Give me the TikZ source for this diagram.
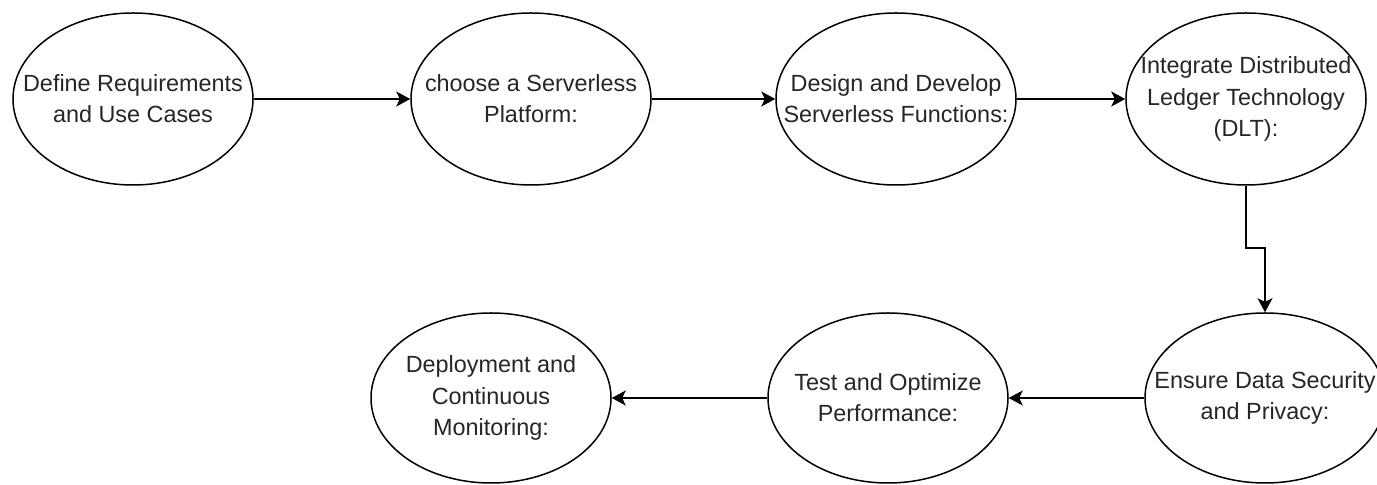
\documentclass[tikz,border=0pt]{standalone}
\usepackage{fontspec}
\setmainfont{Liberation Sans}
\usetikzlibrary{shapes.geometric,arrows.meta}
\begin{document}
\begin{tikzpicture}[x=0.5pt,y=-0.5pt,
  stage/.style={draw=black, line width=0.75pt, ellipse, minimum width=120pt, minimum height=86pt, inner sep=0pt, fill=white},
  txt/.style={align=center, text=black!85, inner sep=0pt, font=\fontsize{11.7pt}{15.6pt}\selectfont},
  conn/.style={draw=black, line width=1pt, -{Stealth[length=7pt,width=7.5pt,inset=1.8pt]}}
]
\useasboundingbox (0,0) rectangle (1377,485);
\clip (0,0) rectangle (1377,485);
\fill[white] (0,0) rectangle (1377,485);

\node[stage] (e1) at (133,99) {};
\node[stage] (e2) at (531,99) {};
\node[stage] (e3) at (896,99) {};
\node[stage] (e4) at (1246,99) {};
\node[stage, minimum height=85pt] (e5) at (1265,398) {};
\node[stage, minimum height=85pt] (e6) at (888,398) {};
\node[stage, minimum height=85pt] (e7) at (491,398) {};

\node[txt] (t1) at (e1) {Define Requirements\\and Use Cases};
\node[txt] (t2) at (e2) {choose a Serverless\\Platform:};
\node[txt] (t3) at (e3) {Design and Develop\\Serverless Functions:};
\node[txt] (t4) at (e4) {Integrate Distributed\\Ledger Technology\\(DLT):};
\node[txt] (t5) at (e5) {Ensure Data Security\\and Privacy:};
\node[txt] (t6) at (e6) {Test and Optimize\\Performance:};
\node[txt] (t7) at (e7) {Deployment and\\Continuous\\Monitoring:};

\coordinate (bend) at (1246,248);

\draw[conn] (e1) -- (e2);
\draw[conn] (e2) -- (e3);
\draw[conn] (e3) -- (e4);
\draw[conn] (e4.south) -- (bend) -| (e5.north);
\draw[conn] (e5) -- (e6);
\draw[conn] (e6) -- (e7);
\end{tikzpicture}
\end{document}
